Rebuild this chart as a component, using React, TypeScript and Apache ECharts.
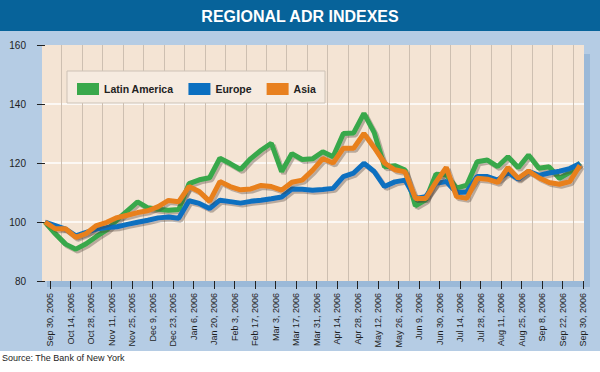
import React, { useEffect, useRef } from "react";
import * as echarts from "echarts";

const dateLabels = [
  "Sep 30, 2005", "Oct 14, 2005", "Oct 28, 2005", "Nov 11, 2005", "Nov 25, 2005",
  "Dec 9, 2005", "Dec 23, 2005", "Jan 6, 2006", "Jan 20, 2006", "Feb 3, 2006",
  "Feb 17, 2006", "Mar 3, 2006", "Mar 17, 2006", "Mar 31, 2006", "Apr 14, 2006",
  "Apr 28, 2006", "May 12, 2006", "May 26, 2006", "Jun 9, 2006", "Jun 30, 2006",
  "Jul 14, 2006", "Jul 28, 2006", "Aug 11, 2006", "Aug 25, 2006", "Sep 8, 2006",
  "Sep 22, 2006", "Sep 30, 2006",
];

const latinAmerica = [
  100, 96, 92.5, 90.8, 92.6, 95.1, 97.3, 100.7, 103.8, 106.8,
  104.8, 104.3, 104, 104.2, 113, 114.3, 115, 121.6, 119.8, 117.8,
  121.5, 124.3, 126.7, 117.1, 123.2, 121.2, 121.4, 123.8, 122.1, 130,
  130.2, 136.8, 130.3, 118.7, 119.1, 117.6, 105.5, 107.5, 116.2, 116,
  111.5, 112.5, 120.4, 121, 118.8, 122.1, 118.4, 122.7, 118.2, 118.7,
  114.8, 116.8, 120,
];

const europe = [
  100, 98.8, 97.6, 95.3, 96.5, 97.6, 98.1, 98.4, 99.2, 99.9,
  100.6, 101.4, 101.7, 101.3, 107.2, 106.3, 104.6, 107.4, 106.9, 106.4,
  107, 107.4, 107.9, 108.5, 111.2, 111.1, 110.8, 111, 111.4, 115.4,
  116.6, 119.9, 117.1, 112, 113.6, 114.2, 108, 108.6, 113.1, 113.7,
  110, 110.2, 115.4, 115.4, 114.2, 116.8, 114.5, 117.2, 115.8, 116.6,
  117.2, 118.1, 119.8,
];

const asia = [
  100, 97.7, 97.7, 94.8, 96.1, 98.8, 99.9, 101.5, 102.3, 103.2,
  103.8, 105.2, 107.3, 106.9, 112, 110.3, 107, 113.7, 112, 110.9,
  111.2, 112.4, 112, 110.8, 113.5, 114.2, 117.5, 121.5, 120, 125,
  125, 130, 125.2, 120, 117.7, 117, 108, 108, 113.5, 118.5,
  108.6, 108, 114.8, 114.5, 113.4, 118.5, 114.8, 117.3, 115, 113.4,
  112.8, 113.7, 119.2,
];

const seriesNames = ["Latin America", "Europe", "Asia"];
const seriesColors = ["#39a84b", "#0b6fc0", "#e8801f"];

const FONT = "'Liberation Sans', Arial, sans-serif";

export default function App() {
  const ref = useRef<HTMLDivElement>(null);
  useEffect(() => {
    document.body.style.margin = "0";
    if (!ref.current) return;
    const chart = echarts.init(ref.current, null, { renderer: "svg" });
    const values = [latinAmerica, europe, asia];
    const lineSeries = values.map((arr, k) => ({
      name: seriesNames[k],
      type: "line",
      xAxisIndex: 0,
      yAxisIndex: 0,
      data: arr.map((v, i) => [i, v]),
      symbol: "none",
      z: 2 + k,
      itemStyle: { color: seriesColors[k] },
      lineStyle: {
        width: 5,
        color: seriesColors[k],
        shadowColor: "rgba(70,60,50,0.35)",
        shadowOffsetX: 2,
        shadowOffsetY: 2,
        shadowBlur: 1,
      },
    }));
    const option = {
      animation: false,
      backgroundColor: "#ffffff",
      graphic: [
        { type: "rect", z: -10, silent: true, shape: { x: 0, y: 0, width: 600, height: 351 }, style: { fill: "#b5cce4" } },
        { type: "rect", z: -10, silent: true, shape: { x: 0, y: 0, width: 600, height: 31 }, style: { fill: "#07639a" } },
        {
          type: "text", z: 5, x: 300, y: 16,
          style: { text: "REGIONAL ADR INDEXES", fill: "#ffffff", fontSize: 16, fontWeight: "bold", fontFamily: FONT, align: "center", verticalAlign: "middle" },
        },
        { type: "rect", z: -9, silent: true, shape: { x: 47, y: 54, width: 543, height: 233 }, style: { fill: "#9bb9d8" } },
        { type: "rect", z: -8, silent: true, shape: { x: 42, y: 45, width: 542, height: 236 }, style: { fill: "#f4e4d4" } },
        { type: "rect", z: 3, silent: true, shape: { x: 67, y: 71, width: 258, height: 32 }, style: { fill: "#f6ebe0", stroke: "#cdc2b6", lineWidth: 1 } },
        {
          type: "text", z: 5, x: 2, y: 358,
          style: { text: "Source: The Bank of New York", fill: "#222222", fontSize: 9, fontFamily: FONT, align: "left", verticalAlign: "middle" },
        },
      ],
      legend: {
        data: seriesNames,
        left: 77,
        top: 83,
        padding: 0,
        itemWidth: 22,
        itemHeight: 12,
        itemGap: 15,
        icon: "rect",
        z: 6,
        itemStyle: { borderWidth: 0, shadowBlur: 0, shadowOffsetX: 0, shadowOffsetY: 0 },
        textStyle: { fontSize: 10.5, fontWeight: "bold", fontFamily: FONT, color: "#222222" },
      },
      grid: [
        { left: 42, right: 16, top: 45, bottom: 91 },
        { left: 50, right: 17, top: 45, bottom: 91 },
        { left: 61.7, right: 27, top: 45, bottom: 91 },
      ],
      xAxis: [
        { gridIndex: 0, type: "value", min: -0.29, max: 52.39, show: false },
        {
          gridIndex: 1, type: "category", boundaryGap: false, data: dateLabels,
          axisLine: { show: false },
          axisTick: { show: true, length: 8, interval: 0, lineStyle: { color: "#222222", width: 1 } },
          axisLabel: { interval: 0, rotate: 90, margin: 12, fontSize: 9, fontFamily: FONT, color: "#1e1e1e" },
          splitLine: { show: false },
        },
        {
          gridIndex: 2, type: "category", boundaryGap: false, data: dateLabels.slice(1),
          axisLine: { show: false }, axisTick: { show: false }, axisLabel: { show: false },
          splitLine: { show: true, interval: 0, lineStyle: { color: "#cdbfb1", width: 1 } },
        },
      ],
      yAxis: [
        {
          gridIndex: 0, type: "value", min: 80, max: 160, interval: 20,
          axisLine: { show: false },
          axisTick: { show: true, length: 8, lineStyle: { color: "#222222", width: 1 } },
          axisLabel: { margin: 16, fontSize: 10, fontFamily: FONT, color: "#1e1e1e" },
          splitLine: { show: true, lineStyle: { color: ["rgba(0,0,0,0)", "#ffffff", "#ffffff", "#ffffff", "rgba(0,0,0,0)"], width: 1.5 } },
        },
        { gridIndex: 1, type: "value", show: false },
        { gridIndex: 2, type: "value", show: false },
      ],
      series: lineSeries,
    };
    chart.setOption(option as any);
    return () => chart.dispose();
  }, []);
  return <div ref={ref} style={{ width: 600, height: 372 }} />;
}
